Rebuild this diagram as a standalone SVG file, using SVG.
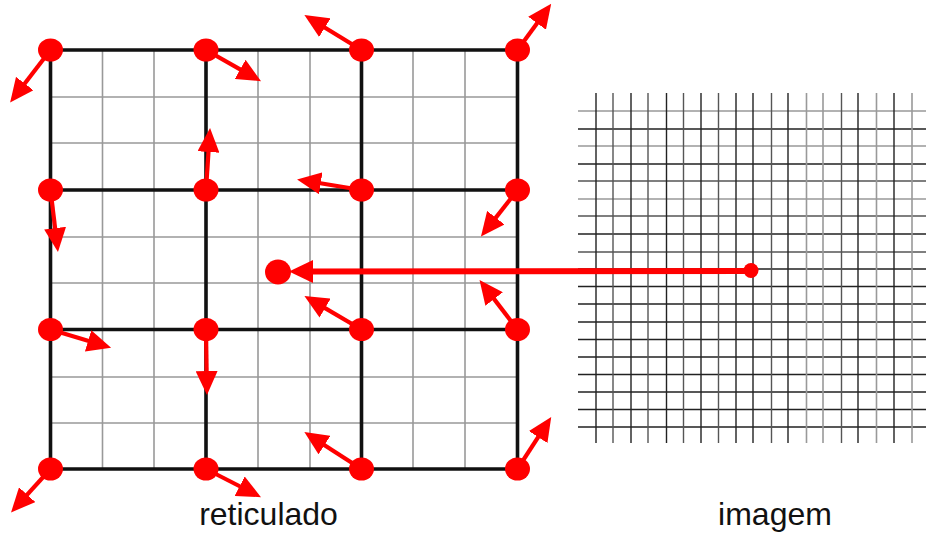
<svg xmlns="http://www.w3.org/2000/svg" width="926" height="535" viewBox="0 0 926 535">
<style>
.thin{stroke:#999;stroke-width:1.6;fill:none}
.thick{stroke:#111;stroke-width:3.6;fill:none}
.rd{stroke:#222;stroke-width:1.4}
.rm{stroke:#555;stroke-width:1.4}
.rl{stroke:#999;stroke-width:1.6}
.dot{fill:#f00}
.arr{stroke:#f00;stroke-width:4.2;fill:none;marker-end:url(#ah)}
.main{stroke:#f00;stroke-width:6;fill:none;marker-end:url(#ahm)}
.lbl{font-family:"Liberation Sans",Arial,sans-serif;font-size:32px;fill:#111;text-anchor:middle}
</style>
<defs>
<marker id="ah" markerUnits="userSpaceOnUse" markerWidth="24" markerHeight="22" refX="5" refY="11" orient="auto" viewBox="0 0 24 22">
<path d="M0,0 L24,11 L0,22 z" fill="#f00"/>
</marker>
<marker id="ahm" markerUnits="userSpaceOnUse" markerWidth="24" markerHeight="23" refX="4" refY="11.5" orient="auto" viewBox="0 0 24 23">
<path d="M0,0 L24,11.5 L0,23 z" fill="#f00"/>
</marker>
</defs>
<rect width="926" height="535" fill="#fff"/>
<g id="reticulado-grid">
<path class="thin" d="M102.5,50V469M154,50V469M258,50V469M310,50V469M413,50V469M465,50V469M50.5,97H517.5M50.5,143H517.5M50.5,237H517.5M50.5,283H517.5M50.5,377H517.5M50.5,423H517.5"/>
<path class="thick" d="M50.5,50V469M206,50V469M361.5,50V469M517.5,50V469M50.5,50H517.5M50.5,190H517.5M50.5,329.5H517.5M50.5,469H517.5"/>
</g>
<g id="imagem-grid">
<path class="rl" d="M578,111H926M578,146H926M578,199H926"/>
<path class="rm" d="M578,181H926M578,216H926M578,252H926"/>
<path class="rd" d="M578,129H926M578,164H926M578,234H926M578,269H926M578,286.5H926M578,304H926M578,322H926M578,339.5H926M578,357H926M578,374.5H926M578,392H926M578,409.5H926M578,427H926"/>
<path class="rd" d="M596,93V443M631,93V443M666.5,93V443M701,93V443M736,93V443M753,93V443M788,93V443M858,93V443M894,93V443"/>
<path class="rm" d="M613,93V443M648,93V443M683.5,93V443M718.5,93V443M771.5,93V443M841.5,93V443"/>
<path class="rl" d="M806.5,93V443M823,93V443M876.5,93V443M912,93V443"/>
</g>
<g id="connectors">
<line class="arr" x1="50.5" y1="50" x2="21.7" y2="87.5"/>
<line class="arr" x1="206" y1="50" x2="244.5" y2="71.8"/>
<line class="arr" x1="361.5" y1="50" x2="320.6" y2="25"/>
<line class="arr" x1="517.5" y1="50" x2="540" y2="19.2"/>
<line class="arr" x1="50.5" y1="190" x2="55.7" y2="233.1"/>
<line class="arr" x1="206" y1="190" x2="208.8" y2="147"/>
<line class="arr" x1="361.5" y1="190" x2="315.8" y2="182.5"/>
<line class="arr" x1="517.5" y1="190" x2="492.7" y2="221.6"/>
<line class="arr" x1="50.5" y1="329.5" x2="92.9" y2="342.3"/>
<line class="arr" x1="206" y1="329.5" x2="206.7" y2="376"/>
<line class="arr" x1="361.5" y1="329.5" x2="320.8" y2="305.6"/>
<line class="arr" x1="517.5" y1="329.5" x2="491.1" y2="295.1"/>
<line class="arr" x1="50.5" y1="469" x2="23.8" y2="498.4"/>
<line class="arr" x1="206" y1="469" x2="244.1" y2="488.5"/>
<line class="arr" x1="361.5" y1="469" x2="320.3" y2="442.4"/>
<line class="arr" x1="517.5" y1="469" x2="540.9" y2="432.9"/>
<line class="main" x1="751" y1="271" x2="309" y2="271.5"/>
</g>
<g id="node-r0c0"><ellipse class="dot" cx="50.5" cy="50" rx="12.5" ry="11.5"/></g>
<g id="node-r0c1"><ellipse class="dot" cx="206" cy="50" rx="12.5" ry="11.5"/></g>
<g id="node-r0c2"><ellipse class="dot" cx="361.5" cy="50" rx="12.5" ry="11.5"/></g>
<g id="node-r0c3"><ellipse class="dot" cx="517.5" cy="50" rx="12.5" ry="11.5"/></g>
<g id="node-r1c0"><ellipse class="dot" cx="50.5" cy="190" rx="12.5" ry="11.5"/></g>
<g id="node-r1c1"><ellipse class="dot" cx="206" cy="190" rx="12.5" ry="11.5"/></g>
<g id="node-r1c2"><ellipse class="dot" cx="361.5" cy="190" rx="12.5" ry="11.5"/></g>
<g id="node-r1c3"><ellipse class="dot" cx="517.5" cy="190" rx="12.5" ry="11.5"/></g>
<g id="node-r2c0"><ellipse class="dot" cx="50.5" cy="329.5" rx="12.5" ry="11.5"/></g>
<g id="node-r2c1"><ellipse class="dot" cx="206" cy="329.5" rx="12.5" ry="11.5"/></g>
<g id="node-r2c2"><ellipse class="dot" cx="361.5" cy="329.5" rx="12.5" ry="11.5"/></g>
<g id="node-r2c3"><ellipse class="dot" cx="517.5" cy="329.5" rx="12.5" ry="11.5"/></g>
<g id="node-r3c0"><ellipse class="dot" cx="50.5" cy="469" rx="12.5" ry="11.5"/></g>
<g id="node-r3c1"><ellipse class="dot" cx="206" cy="469" rx="12.5" ry="11.5"/></g>
<g id="node-r3c2"><ellipse class="dot" cx="361.5" cy="469" rx="12.5" ry="11.5"/></g>
<g id="node-r3c3"><ellipse class="dot" cx="517.5" cy="469" rx="12.5" ry="11.5"/></g>
<g id="node-target"><ellipse class="dot" cx="278" cy="272" rx="13" ry="12.5"/></g>
<g id="node-source"><circle class="dot" cx="751" cy="270.5" r="7.5"/></g>
<g id="labels">
<text class="lbl" x="268.5" y="525">reticulado</text>
<text class="lbl" x="775" y="525">imagem</text>
</g>
</svg>
